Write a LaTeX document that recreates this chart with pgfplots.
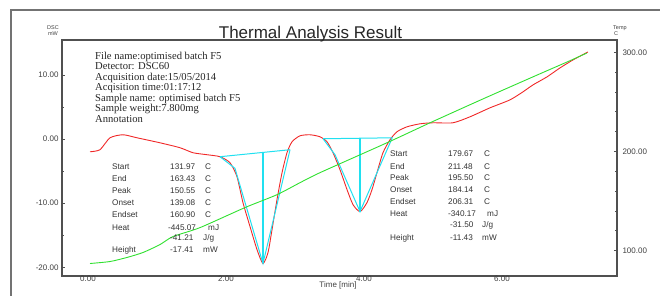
\documentclass[border=0pt]{standalone}
\usepackage{fontspec}
\setmainfont{Liberation Sans}
\newfontfamily\tnr{Liberation Serif}
\usepackage{pgfplots}
\pgfplotsset{compat=1.18}
\definecolor{dscred}{HTML}{F02828}
\definecolor{tgreen}{HTML}{30E030}
\definecolor{bcyan}{HTML}{20E0F0}
\definecolor{framegray}{HTML}{505050}
\begin{document}
\begin{tikzpicture}
\useasboundingbox (0,0) rectangle (660pt,-296pt);
\draw[framegray!80, line width=1.4pt] (11pt,-300pt) -- (11pt,-10pt) -- (665pt,-10pt);
\begin{axis}[at={(62pt,-276pt)}, anchor=south west, scale only axis,
  width=555pt, height=236pt,
  xmin=-0.377, xmax=7.667, ymin=-21.34, ymax=15.44,
  axis line style={draw=framegray, line width=1.1pt},
  xtick={0,2,4,6}, ytick={-20,-10,0,10}, minor y tick num=1,
  tick align=inside, major tick length=3pt, minor tick length=2pt,
  tick style={framegray, line width=0.8pt}, xtick style={draw=none},
  ytick pos=left,
  /pgf/number format/.cd, fixed, fixed zerofill, precision=2, assume math mode=true, /pgfplots/.cd,
  tick label style={font=\fontsize{8}{8}\selectfont, text=black!75},
  xticklabel style={yshift=3.5pt},
]
\addplot[dscred, line width=0.9pt, smooth, tension=0.4] coordinates {
(0.029,-1.98) (0.174,-1.66) (0.319,0.20) (0.507,0.67) (0.710,0.20) (1.043,-0.58)
(1.333,-1.35) (1.522,-2.13) (1.725,-2.44) (1.913,-2.75) (2.058,-3.69) (2.159,-5.86)
(2.246,-9.91) (2.348,-13.64) (2.449,-17.22) (2.536,-19.39) (2.609,-17.68) (2.667,-14.11)
(2.739,-9.44) (2.812,-5.24) (2.884,-2.13) (2.957,-0.42) (3.072,0.51) (3.217,0.67)
(3.362,0.36) (3.464,-0.42) (3.551,-2.13) (3.652,-4.77) (3.754,-7.88) (3.841,-10.22)
(3.942,-11.31) (4.043,-9.91) (4.116,-7.88) (4.188,-5.24) (4.275,-2.13) (4.377,-0.11)
(4.478,1.14) (4.623,1.91) (4.812,2.38) (5.0,2.54) (5.290,2.54) (5.536,3.47)
(5.826,4.87) (6.116,6.11) (6.304,7.36) (6.449,8.44) (6.652,9.69) (6.841,11.09)
(7.029,12.33) (7.246,13.58)};
% first peak analysis lines
\addplot[bcyan, line width=1pt] coordinates {(1.913,-2.75) (2.928,-1.66)};
\addplot[bcyan, line width=1pt] coordinates {(1.913,-2.75) (2.130,-4.56) (2.536,-19.39) (2.928,-1.66)};
\addplot[bcyan, line width=1.2pt] coordinates {(2.536,-2.13) (2.536,-19.39)};
% second peak analysis lines
\addplot[bcyan, line width=1pt] coordinates {(3.406,0.05) (4.420,0.20)};
\addplot[bcyan, line width=1pt] coordinates {(3.406,0.05) (3.580,-2.44) (3.942,-11.30) (4.406,0.10)};
\addplot[bcyan, line width=1.6pt] coordinates {(3.942,0.12) (3.942,-11.30)};
\end{axis}
\begin{axis}[at={(62pt,-276pt)}, anchor=south west, scale only axis,
  width=555pt, height=236pt,
  xmin=-0.377, xmax=7.667, ymin=74.4, ymax=312.4,
  axis x line=none, axis y line*=right,
  axis line style={draw=framegray, line width=1.1pt},
  ytick={100,200,300}, minor y tick num=4,
  tick align=inside, major tick length=3pt, minor tick length=2pt,
  tick style={framegray, line width=0.8pt},
  /pgf/number format/.cd, fixed, fixed zerofill, precision=2, assume math mode=true, /pgfplots/.cd,
  tick label style={font=\fontsize{8}{8}\selectfont, text=black!75},
  yticklabel style={xshift=2pt},
]
\addplot[tgreen, line width=0.9pt, smooth, tension=0.4] coordinates {
(0.029,87.0) (0.319,89.0) (0.565,93.1) (0.797,98.1) (1.043,106.1) (1.232,114.2)
(1.623,123.2) (2.275,143.4) (2.739,156.4) (3.072,168.5) (3.362,178.6) (4.203,204.7)
(4.522,214.8) (4.957,228.9) (5.725,253.0) (6.507,277.0) (6.942,290.2) (7.232,299.3)};
\end{axis}
% titles and axis names
\node[font=\fontsize{17}{17}\selectfont, anchor=base, text=black!85] at (310.5pt,-38.5pt) {Thermal Analysis Result};
\node[font=\fontsize{5.5}{5.5}\selectfont, align=center, text=black!75, inner sep=0] at (53pt,-30.5pt) {DSC\\mW};
\node[font=\fontsize{5.5}{5.5}\selectfont, align=left, text=black!75, inner sep=0, anchor=west] at (613pt,-30.5pt) {Temp\\\,C};
\node[font=\fontsize{8}{8}\selectfont, text=black!75, inner sep=0] at (338pt,-285.5pt) {Time [min]};
% annotation block
\begin{scope}[every node/.style={anchor=base west, inner sep=0, font=\tnr\fontsize{10.6}{10.6}\selectfont, text=black!85}]
\node at (95pt,-59.5pt) {File name:optimised batch F5};
\node at (95pt,-70pt) {Detector: DSC60};
\node at (95pt,-80.5pt) {Acquisition date:15/05/2014};
\node at (95pt,-91pt) {Acqisition time:01:17:12};
\node at (95pt,-101.5pt) {Sample name: optimised batch F5};
\node at (95pt,-112pt) {Sample weight:7.800mg};
\node at (95pt,-122.5pt) {Annotation};
\end{scope}
% peak tables
\begin{scope}[every node/.style={anchor=base west, inner sep=0, font=\fontsize{8.2}{8.2}\selectfont, text=black!80}]
\node at (112pt,-169.3pt) {Start}; \node at (170pt,-169.3pt) {131.97}; \node at (205pt,-169.3pt) {C};
\node at (112pt,-181.7pt) {End}; \node at (170pt,-181.7pt) {163.43}; \node at (205pt,-181.7pt) {C};
\node at (112pt,-193.7pt) {Peak}; \node at (170pt,-193.7pt) {150.55}; \node at (205pt,-193.7pt) {C};
\node at (112pt,-205.3pt) {Onset}; \node at (170pt,-205.3pt) {139.08}; \node at (205pt,-205.3pt) {C};
\node at (112pt,-217pt) {Endset}; \node at (170pt,-217pt) {160.90}; \node at (205pt,-217pt) {C};
\node at (112pt,-230pt) {Heat}; \node at (168pt,-230pt) {-445.07}; \node at (208pt,-230pt) {mJ};
\node at (170pt,-240.3pt) {-41.21}; \node at (203pt,-240.3pt) {J/g};
\node at (112pt,-252pt) {Height}; \node at (170pt,-252pt) {-17.41}; \node at (203pt,-252pt) {mW};
\node at (390pt,-157pt) {Start}; \node at (448pt,-157pt) {179.67}; \node at (484pt,-157pt) {C};
\node at (390pt,-169.3pt) {End}; \node at (448pt,-169.3pt) {211.48}; \node at (484pt,-169.3pt) {C};
\node at (390pt,-181pt) {Peak}; \node at (448pt,-181pt) {195.50}; \node at (484pt,-181pt) {C};
\node at (390pt,-193pt) {Onset}; \node at (448pt,-193pt) {184.14}; \node at (484pt,-193pt) {C};
\node at (390pt,-204.3pt) {Endset}; \node at (448pt,-204.3pt) {206.31}; \node at (484pt,-204.3pt) {C};
\node at (390pt,-216.3pt) {Heat}; \node at (448pt,-216.3pt) {-340.17}; \node at (487pt,-216.3pt) {mJ};
\node at (450pt,-227.7pt) {-31.50}; \node at (482pt,-227.7pt) {J/g};
\node at (390pt,-240pt) {Height}; \node at (450pt,-240pt) {-11.43}; \node at (482pt,-240pt) {mW};
\end{scope}
\end{tikzpicture}
\end{document}
